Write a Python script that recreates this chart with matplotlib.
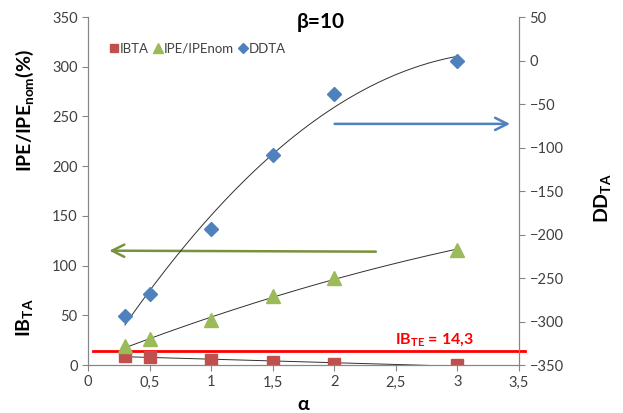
import numpy as np
import matplotlib
matplotlib.use("Agg")
import matplotlib.pyplot as plt

plt.rcParams['font.family'] = ['Lato', 'DejaVu Sans']

alpha = [0.3, 0.5, 1.0, 1.5, 2.0, 3.0]
ibta = [9, 8.5, 5, 3.5, 1, 0]
ipe_nom = [19, 26, 45, 69, 88, 116]
ddta = [-294, -268, -194, -109, -38, 0]
ib_te = 14.3

xticks = [0, 0.5, 1, 1.5, 2, 2.5, 3, 3.5]
xticklabels = ['0', '0,5', '1', '1,5', '2', '2,5', '3', '3,5']

red = '#c0504d'
green = '#9bbb59'
blue = '#4f81bd'
grey = '#868686'
txt = '#404040'

fig = plt.figure(figsize=(6.23, 4.13), dpi=100)
ax = fig.add_axes([0.1413, 0.1162, 0.6918, 0.8426])
ax2 = ax.twinx()

for a in (ax, ax2):
    a.spines['top'].set_visible(False)
    for s in ('left', 'right', 'bottom'):
        a.spines[s].set_color(grey)
    a.tick_params(colors=grey, labelcolor=txt, labelsize=10.5, length=4)

ax.set_xlim(0, 3.5)
ax.set_ylim(0, 350)
ax.set_yticks(np.arange(0, 351, 50))
ax.set_xticks(xticks)
ax.set_xticklabels(xticklabels)
ax2.set_ylim(-350, 50)
ax2.set_yticks(np.arange(-350, 51, 50))

# trendlines: linear for IBTA, 2nd order polynomial for the others
xs = np.linspace(0.3, 3.0, 200)
for ys, axis, deg in ((ibta, ax, 1), (ipe_nom, ax, 2), (ddta, ax2, 2)):
    c = np.polyfit(alpha, ys, deg)
    axis.plot(xs, np.polyval(c, xs), color='#303030', lw=0.7, zorder=2)

# threshold line
ax.plot([0.04, 3.55], [ib_te, ib_te], color='#ff0000', lw=2, clip_on=False, zorder=3)
ax.text(2.81, 25, 'IB$_{\\mathregular{TE}}$ = 14,3', color='#ff0000', fontsize=11.5,
        fontweight='bold', ha='center', va='center')

h1, = ax.plot(alpha, ibta, 's', color=red, ms=9, label='IBTA', zorder=4)
h2, = ax.plot(alpha, ipe_nom, '^', color=green, ms=10, label='IPE/IPEnom', zorder=4)
h3, = ax2.plot(alpha, ddta, 'D', color=blue, ms=7, label='DDTA', zorder=4)

# arrows pointing to the relevant axis
ax.annotate('', xy=(3.45, 242.5), xytext=(1.98, 242.5),
            arrowprops=dict(arrowstyle='->', color=blue, lw=1.8, mutation_scale=22))
ax.annotate('', xy=(0.15, 115), xytext=(2.36, 114),
            arrowprops=dict(arrowstyle='->', color='#77933c', lw=1.8, mutation_scale=22))

leg = ax.legend(handles=[h1, h2, h3], loc='upper left', bbox_to_anchor=(0.02, 0.96),
                ncol=3, frameon=False, fontsize=9.5, handletextpad=0.05,
                columnspacing=0.3, handlelength=0.8, markerscale=0.7)
for t in leg.get_texts():
    t.set_color(txt)

fig.text(321 / 623, 1 - 22 / 413, 'β=10', fontsize=15, fontweight='bold',
         ha='center', va='center')
fig.text(25 / 623, 1 - 111 / 413, 'IPE/IPE$_{\\mathregular{nom}}$(%)', fontsize=14,
         fontweight='bold', rotation=90, ha='center', va='center')
fig.text(25 / 623, 1 - 318 / 413, 'IB$_{\\mathregular{TA}}$', fontsize=14,
         fontweight='bold', rotation=90, ha='center', va='center')
fig.text(603 / 623, 1 - 198 / 413, 'DD$_{\\mathregular{TA}}$', fontsize=14,
         fontweight='bold', rotation=90, ha='center', va='center')
fig.text(303 / 623, 1 - 405 / 413, 'α', fontsize=14, fontweight='bold',
         ha='center', va='center')

fig.savefig('out.png', dpi=100)
